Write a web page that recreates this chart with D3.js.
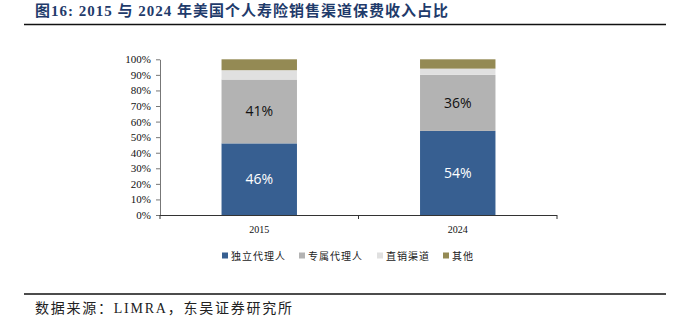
<!DOCTYPE html>
<html>
<head>
<meta charset="utf-8">
<script src="https://cdn.jsdelivr.net/npm/d3@7"></script>
<style>
  html, body { margin: 0; padding: 0; background: #fff; }
  svg { display: block; }
</style>
</head>
<body>
<svg id="chart" width="686" height="322"></svg>
<script>
// Premium share by distribution channel (%)
const years = ["2015", "2024"];
const channels = ["独立代理人", "专属代理人", "直销渠道", "其他"];
const independent = [46, 54];
const captive = [41, 36];
const direct = [6, 4];
const other = [7, 6];
const yTicks = [0, 10, 20, 30, 40, 50, 60, 70, 80, 90, 100];

const colors = ["#375F91", "#B3B3B3", "#E0E0E0", "#948A54"];
const seriesValues = [independent, captive, direct, other];

const svg = d3.select("#chart");
const serif = "'Liberation Serif', 'Times New Roman', serif";
const cjk = "'Noto Sans CJK SC', sans-serif";

// Title
svg.append("text")
  .attr("x", 35).attr("y", 16)
  .attr("fill", "#1F3B6B")
  .attr("font-weight", "bold")
  .attr("font-size", 15)
  .attr("textLength", 413)
  .attr("lengthAdjust", "spacing")
  .style("font-family", serif + ", " + cjk)
  .text("图16:  2015 与 2024 年美国个人寿险销售渠道保费收入占比");

svg.append("line")
  .attr("x1", 24).attr("x2", 666).attr("y1", 24.5).attr("y2", 24.5)
  .attr("stroke", "#111").attr("stroke-width", 1.6);

// Plot area
const plotLeft = 160, plotRight = 557, plotTop = 59.3, plotBottom = 215;
const x = d3.scaleBand().domain(years).range([plotLeft, plotRight]).paddingInner(0.62).paddingOuter(0.31);
const y = d3.scaleLinear().domain([0, 100]).range([plotBottom, plotTop]);

const rows = years.map((yr, i) => {
  const r = { year: yr };
  channels.forEach((c, k) => { r[c] = seriesValues[k][i]; });
  return r;
});
const stacked = d3.stack().keys(channels)(rows);

const g = svg.append("g");
stacked.forEach((layer, k) => {
  g.selectAll(null).data(layer).enter().append("rect")
    .attr("x", d => x(d.data.year))
    .attr("width", x.bandwidth())
    .attr("y", d => y(d[1]))
    .attr("height", d => y(d[0]) - y(d[1]))
    .attr("fill", colors[k]);
});

// Value labels on the two main segments
[0, 1].forEach(k => {
  g.selectAll(null).data(stacked[k]).enter().append("text")
    .attr("x", d => x(d.data.year) + x.bandwidth() / 2)
    .attr("y", d => (y(d[0]) + y(d[1])) / 2 + 5)
    .attr("text-anchor", "middle")
    .attr("font-size", 14)
    .attr("fill", k === 0 ? "#fff" : "#111")
    .style("font-family", "'Open Sans', 'Liberation Sans', sans-serif")
    .text(d => (d[1] - d[0]) + "%");
});

// Y axis
const yAxis = d3.axisLeft(y).tickValues(yTicks).tickFormat(d => d + "%").tickSize(4).tickSizeOuter(0);
const ya = svg.append("g").attr("transform", `translate(${plotLeft},0)`).call(yAxis);
ya.select(".domain").attr("stroke", "#777");
ya.selectAll(".tick line").attr("stroke", "#777");
ya.selectAll(".tick text")
  .attr("x", -9)
  .attr("font-size", 11)
  .attr("fill", "#111")
  .style("font-family", serif);

// X axis
const xa = svg.append("g").attr("transform", `translate(0,${plotBottom})`);
xa.append("line").attr("x1", plotLeft).attr("x2", plotRight).attr("y1", 0.5).attr("y2", 0.5).attr("stroke", "#333");
const boundaries = [plotLeft, (x("2015") + x.bandwidth() + x("2024")) / 2, plotRight];
xa.selectAll(null).data(boundaries).enter().append("line")
  .attr("x1", d => d).attr("x2", d => d).attr("y1", 0).attr("y2", 4).attr("stroke", "#333");
xa.selectAll(null).data(years).enter().append("text")
  .attr("x", d => x(d) + x.bandwidth() / 2)
  .attr("y", 18)
  .attr("text-anchor", "middle")
  .attr("font-size", 10)
  .attr("fill", "#111")
  .style("font-family", serif)
  .text(d => d);

// Legend
const legendX = [222, 299, 377, 443];
const lg = svg.append("g");
channels.forEach((c, k) => {
  lg.append("rect").attr("x", legendX[k]).attr("y", 252.5).attr("width", 6).attr("height", 6).attr("fill", colors[k]);
  lg.append("text")
    .attr("x", legendX[k] + 9).attr("y", 259.5)
    .attr("font-size", 10)
    .attr("fill", "#222")
    .attr("letter-spacing", 1)
    .style("font-family", cjk)
    .text(c);
});

// Footer
svg.append("line")
  .attr("x1", 24).attr("x2", 666).attr("y1", 294).attr("y2", 294)
  .attr("stroke", "#111").attr("stroke-width", 1.6);
svg.append("text")
  .attr("x", 35).attr("y", 313)
  .attr("font-size", 14)
  .attr("fill", "#222")
  .attr("textLength", 257)
  .attr("lengthAdjust", "spacing")
  .style("font-family", serif + ", " + cjk)
  .text("数据来源：LIMRA，东吴证券研究所");
</script>
</body>
</html>
